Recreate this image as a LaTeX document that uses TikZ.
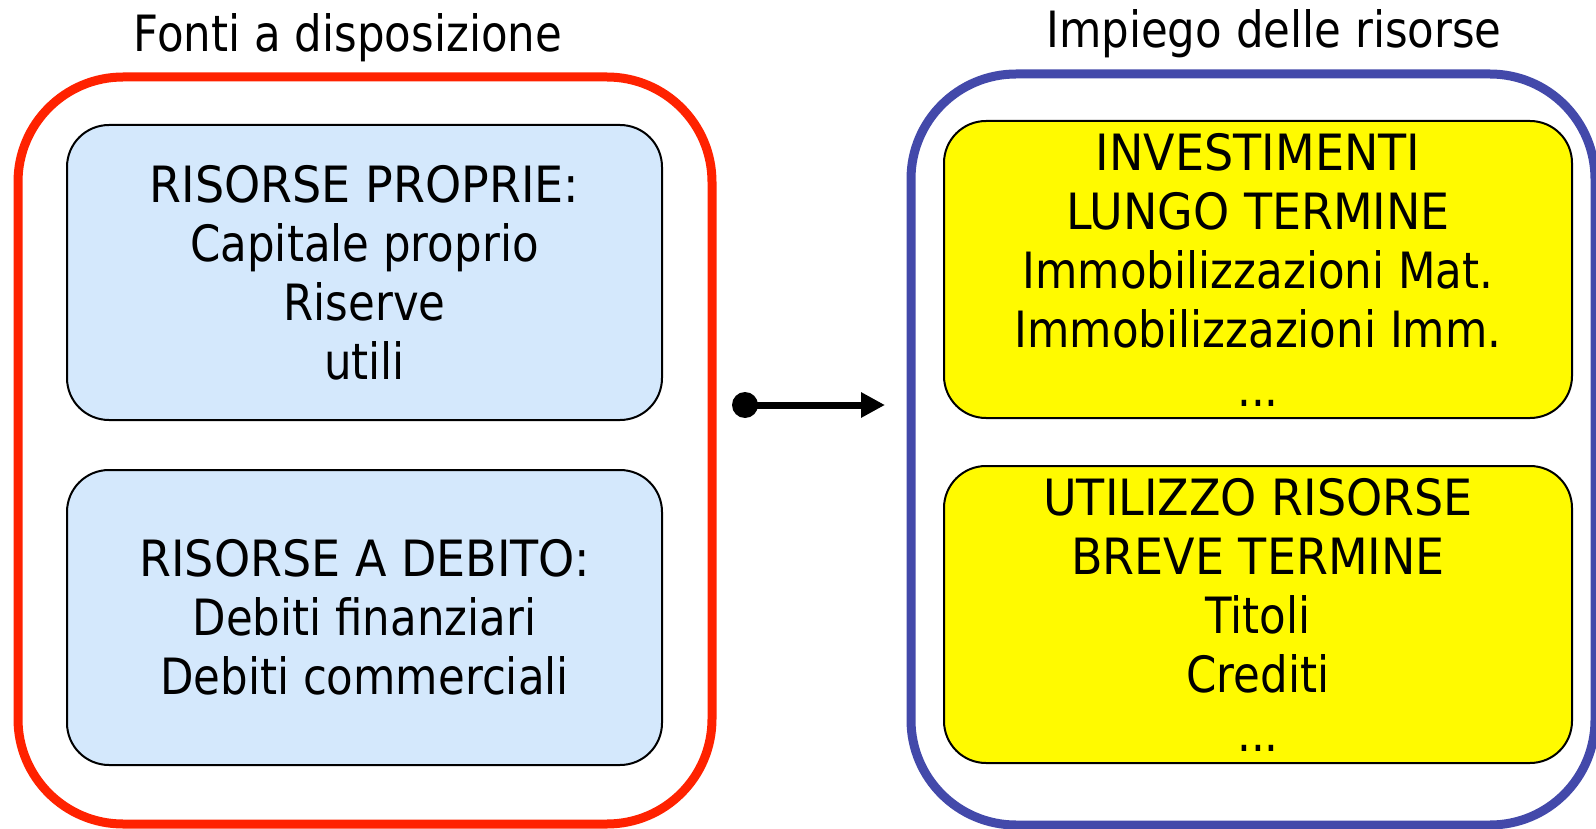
\documentclass[tikz,border=0pt]{standalone}
\usepackage{fontspec}
\setmainfont{DejaVu Sans}[FakeStretch=0.87]
\newfontfamily\capsfont{DejaVu Sans}[FakeStretch=0.92]
\usetikzlibrary{arrows.meta}
\definecolor{outerred}{RGB}{255,34,0}
\definecolor{outerblue}{RGB}{67,73,170}
\definecolor{lightblue}{RGB}{212,232,252}
\definecolor{boxyellow}{RGB}{255,250,0}
\newcommand{\cl}[1]{{\capsfont #1}}
\tikzset{
  outerbox/.style={line width=9pt, rounded corners=105pt},
  innerbox/.style={draw=black, line width=2pt, rounded corners=42pt, align=center,
    font=\fontsize{50}{59}\selectfont, inner sep=0pt},
  srcbox/.style={innerbox, fill=lightblue, minimum width=595pt, minimum height=295pt},
  usebox/.style={innerbox, fill=boxyellow, minimum width=628pt, minimum height=297pt},
  title/.style={font=\fontsize{50}{59}\selectfont},
}
\begin{document}
\begin{tikzpicture}[x=1pt,y=-1pt]
\useasboundingbox (0,0) rectangle (1596,829);
\draw[outerbox, draw=outerred] (18,77) rectangle (712,824);
\draw[outerbox, draw=outerblue] (911,74) rectangle (1595,825);
\node[title] (t1) at (348,38) {Fonti a disposizione};
\node[title] (t2) at (1274,34) {Impiego delle risorse};
\node[srcbox] (proprie) at (364.5,272.5) {\cl{RISORSE PROPRIE:}\\Capitale proprio\\Riserve\\utili};
\node[srcbox] (debito) at (364.5,617.5) {\cl{RISORSE A DEBITO:}\\Debiti finanziari\\Debiti commerciali};
\node[usebox] (invest) at (1258,269.5) {\cl{INVESTIMENTI}\\\cl{LUNGO TERMINE}\\Immobilizzazioni Mat.\\Immobilizzazioni Imm.\\...};
\node[usebox] (utilizzo) at (1258,614.5) {\cl{UTILIZZO RISORSE}\\\cl{BREVE TERMINE}\\Titoli\\Crediti\\...};
\node[circle, fill=black, inner sep=0pt, minimum size=26pt] (dot) at (745,405) {};
\coordinate (tip) at (885,405);
\draw[line width=7pt, -{Triangle[length=24pt,width=24pt]}] (dot.center) -- (tip);
\end{tikzpicture}
\end{document}
